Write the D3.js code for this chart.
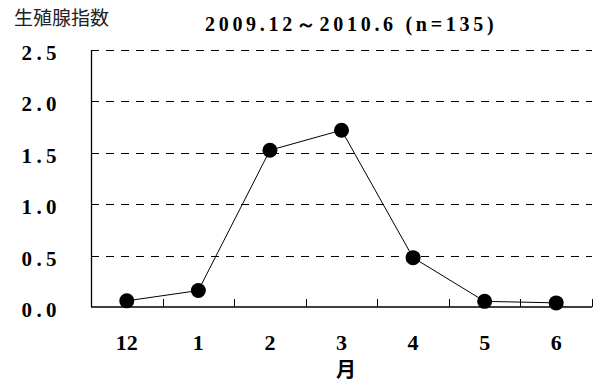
<!DOCTYPE html>
<html>
<head>
<meta charset="utf-8">
<script src="https://cdn.jsdelivr.net/npm/d3@7/dist/d3.min.js"></script>
<style>
  html, body { margin: 0; padding: 0; background: #fff; }
  svg { display: block; }
</style>
</head>
<body>
<svg id="chart" width="600" height="385"></svg>
<script>
// Monthly gonad index, Dec 2009 – Jun 2010
const months = ["12", "1", "2", "3", "4", "5", "6"];
const gonadIndex = [0.06, 0.16, 1.525, 1.72, 0.48, 0.055, 0.04];
const yTicks = [0.0, 0.5, 1.0, 1.5, 2.0, 2.5];
const titleText = "2009.12～2010.6 (n=135)";
const yLabelText = "生殖腺指数";
const xLabelText = "月";

const svg = d3.select("#chart");
const margin = { left: 91, right: 8, top: 50, bottom: 78 };
const width = 600, height = 385;
const plotW = width - margin.left - margin.right;
const plotH = height - margin.top - margin.bottom;

const numFont = "'Liberation Serif', 'DejaVu Serif', serif";
const cjkFont = "'Noto Sans CJK JP', 'Noto Sans CJK SC', sans-serif";

const x = d3.scaleBand().domain(months).range([0, plotW]).paddingInner(0).paddingOuter(0);
const y = d3.scaleLinear().domain([0, 2.5]).range([plotH, 0]);

const g = svg.append("g").attr("transform", `translate(${margin.left},${margin.top})`);

// dashed horizontal gridlines
g.append("g")
  .selectAll("line")
  .data(yTicks.filter(v => v > 0))
  .join("line")
  .attr("x1", 0).attr("x2", plotW)
  .attr("y1", d => Math.round(y(d)) + 0.5).attr("y2", d => Math.round(y(d)) + 0.5)
  .attr("stroke", "#000").attr("stroke-width", 1)
  .attr("stroke-dasharray", "8,7");

// y axis line
g.append("line")
  .attr("x1", 0.5).attr("x2", 0.5)
  .attr("y1", y(2.5)).attr("y2", plotH)
  .attr("stroke", "#000").attr("stroke-width", 1.3);

// y tick labels
g.append("g")
  .selectAll("text")
  .data(yTicks)
  .join("text")
  .attr("x", -30)
  .attr("y", d => y(d) + 10)
  .attr("text-anchor", "end")
  .attr("font-family", numFont)
  .attr("font-weight", "bold")
  .attr("font-size", 21)
  .attr("letter-spacing", 4.4)
  .text(d => d3.format(".1f")(d));

// x axis baseline and band boundary ticks
g.append("line")
  .attr("x1", 0).attr("x2", plotW)
  .attr("y1", plotH).attr("y2", plotH)
  .attr("stroke", "#000").attr("stroke-width", 1.5);

const boundaries = months.slice(1).map(m => x(m)).concat([plotW]);
g.append("g")
  .selectAll("line")
  .data(boundaries)
  .join("line")
  .attr("x1", d => Math.round(d) + 0.5).attr("x2", d => Math.round(d) + 0.5)
  .attr("y1", plotH).attr("y2", plotH - 8)
  .attr("stroke", "#000").attr("stroke-width", 1);

// x tick labels
g.append("g")
  .selectAll("text")
  .data(months)
  .join("text")
  .attr("x", d => x(d) + x.bandwidth() / 2)
  .attr("y", plotH + 43)
  .attr("text-anchor", "middle")
  .attr("font-family", numFont)
  .attr("font-weight", "bold")
  .attr("font-size", 22)
  .text(d => d);

// series line
const cx = (d, i) => x(months[i]) + x.bandwidth() / 2;
const line = d3.line().x((d, i) => cx(d, i)).y(d => y(d));
g.append("path")
  .datum(gonadIndex)
  .attr("d", line)
  .attr("fill", "none")
  .attr("stroke", "#000")
  .attr("stroke-width", 1);

// markers
g.append("g")
  .selectAll("circle")
  .data(gonadIndex)
  .join("circle")
  .attr("cx", (d, i) => cx(d, i))
  .attr("cy", d => y(d))
  .attr("r", 7.5)
  .attr("fill", "#000");

// y axis title
svg.append("text")
  .attr("x", 14).attr("y", 25)
  .attr("font-family", cjkFont)
  .attr("font-size", 19)
  .attr("fill", "#222")
  .text(yLabelText);

// chart title
svg.append("text")
  .attr("x", 205).attr("y", 31)
  .attr("font-family", numFont)
  .attr("font-weight", "bold")
  .attr("font-size", 20)
  .attr("letter-spacing", 3.7)
  .text(titleText);

// x axis title
svg.append("text")
  .attr("x", 346).attr("y", 377)
  .attr("text-anchor", "middle")
  .attr("font-family", cjkFont)
  .attr("font-weight", "bold")
  .attr("font-size", 20)
  .text(xLabelText);
</script>
</body>
</html>
